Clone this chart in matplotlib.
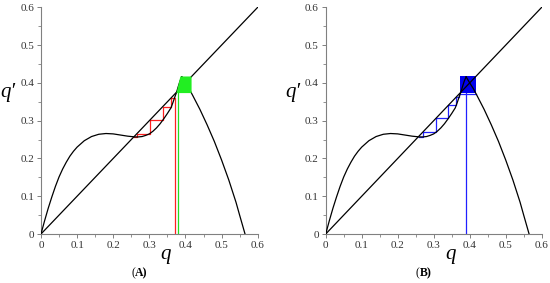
import matplotlib
matplotlib.use("Agg")
import matplotlib.pyplot as plt
from matplotlib.ticker import MultipleLocator

# ---- data ----
q_left = [0.0, 0.01, 0.02, 0.03, 0.04, 0.05, 0.06, 0.07, 0.08, 0.09, 0.10, 0.12, 0.14,
          0.16, 0.18, 0.20, 0.22, 0.24, 0.26, 0.27, 0.28, 0.29, 0.30, 0.31, 0.32, 0.33,
          0.34, 0.35, 0.36, 0.365, 0.37, 0.375, 0.38, 0.385, 0.39]
f_left = [0.0, 0.035, 0.068, 0.098, 0.126, 0.151, 0.172, 0.190, 0.206, 0.219, 0.230, 0.247, 0.258,
          0.264, 0.266, 0.265, 0.262, 0.259, 0.257, 0.257, 0.258, 0.261, 0.265, 0.272, 0.281, 0.292,
          0.305, 0.319, 0.334, 0.347, 0.361, 0.374, 0.390, 0.405, 0.416]
q_right = [0.39, 0.40, 0.41, 0.42, 0.44, 0.46, 0.48, 0.50, 0.52, 0.54, 0.55, 0.565]
f_right = [0.416, 0.400, 0.385, 0.367, 0.330, 0.289, 0.245, 0.196, 0.143, 0.084, 0.050, 0.0]
diag = [0.0, 0.6]

# panel A: cobweb from q0 = 0.370 (red) and q0 = 0.38 (green, chaotic band)
red_x = [0.370, 0.370, 0.361, 0.361, 0.337, 0.337, 0.301, 0.301, 0.266, 0.266, 0.257]
red_y = [0.0, 0.361, 0.361, 0.337, 0.337, 0.301, 0.301, 0.266, 0.266, 0.257, 0.257]
green_line_x = [0.38, 0.38]
green_line_y = [0.0, 0.39]
green_band_x = [0.375, 0.386, 0.417, 0.417]
green_band_y = [0.373, 0.417, 0.417, 0.373]

# panel B: cobweb from q0 = 0.389 (blue)
blue_line_x = [0.389, 0.389]
blue_line_y = [0.0, 0.414]
blue_band_x = [0.373, 0.373, 0.417, 0.417]
blue_band_y = [0.373, 0.417, 0.417, 0.373]
blue_x = [0.418, 0.371, 0.371, 0.363, 0.363, 0.341, 0.341, 0.306, 0.306, 0.270, 0.270, 0.258]
blue_y = [0.371, 0.371, 0.363, 0.363, 0.341, 0.341, 0.306, 0.306, 0.270, 0.270, 0.257, 0.257]

ticks = [0, 0.1, 0.2, 0.3, 0.4, 0.5, 0.6]
tick_labels = ["0", "0.1", "0.2", "0.3", "0.4", "0.5", "0.6"]

SERIF = "Liberation Serif"
fig = plt.figure(figsize=(5.5, 2.83), dpi=100)
axA = fig.add_axes([0.0745, 0.1731, 0.394, 0.801])
axB = fig.add_axes([0.5922, 0.1731, 0.3927, 0.801])


def base(ax, label):
    ax.plot(diag, diag, color="black", lw=0.9, zorder=3)
    ax.plot(q_left, f_left, color="black", lw=0.9, zorder=3)
    ax.plot(q_right, f_right, color="black", lw=0.9, zorder=3)
    ax.set_xlim(0, 0.6)
    ax.set_ylim(0, 0.6)
    for s in ["top", "right"]:
        ax.spines[s].set_visible(False)
    for s in ["left", "bottom"]:
        ax.spines[s].set_color("#808080")
        ax.spines[s].set_linewidth(0.8)
    ax.set_xticks(ticks)
    ax.set_xticklabels(tick_labels)
    ax.set_yticks(ticks)
    ax.set_yticklabels(tick_labels)
    ax.xaxis.set_minor_locator(MultipleLocator(0.05))
    ax.yaxis.set_minor_locator(MultipleLocator(0.05))
    ax.tick_params(which="major", length=3, width=0.7, color="#808080", pad=2,
                   labelsize=8, labelcolor="#333333")
    ax.tick_params(which="minor", length=2, width=0.6, color="#808080")
    for t in ax.get_xticklabels() + ax.get_yticklabels():
        t.set_fontfamily(SERIF)
    ax.text(0.346, -0.055, "q", transform=ax.transData, ha="center", va="center",
            fontsize=15, fontstyle="italic", family=SERIF, clip_on=False)
    ax.text(-0.092, 0.375, "q\u2032", transform=ax.transData, ha="center", va="center",
            fontsize=15, fontstyle="italic", family=SERIF, clip_on=False)
    ax.text(0.435, -0.172, "(", transform=ax.transAxes, ha="right", va="center",
            fontsize=8.5, family=SERIF)
    ax.text(0.435, -0.172, label + ")", transform=ax.transAxes, ha="left", va="center",
            fontsize=8.5, family=SERIF, fontweight="bold")


base(axA, "A")
axA.plot(red_x, red_y, color="#ff2020", lw=0.9, zorder=2)
axA.plot(green_line_x, green_line_y, color="#22dd22", lw=0.9, zorder=2)
axA.fill(green_band_x, green_band_y, color="#22ee22", lw=0, zorder=4)

base(axB, "B")
axB.plot(blue_x, blue_y, color="#2020ff", lw=0.9, zorder=2)
axB.plot(blue_line_x, blue_line_y, color="#2020ff", lw=0.9, zorder=2)
axB.fill(blue_band_x, blue_band_y, color="#0000ee", lw=0, zorder=2)

fig.savefig("out.png", dpi=100)
